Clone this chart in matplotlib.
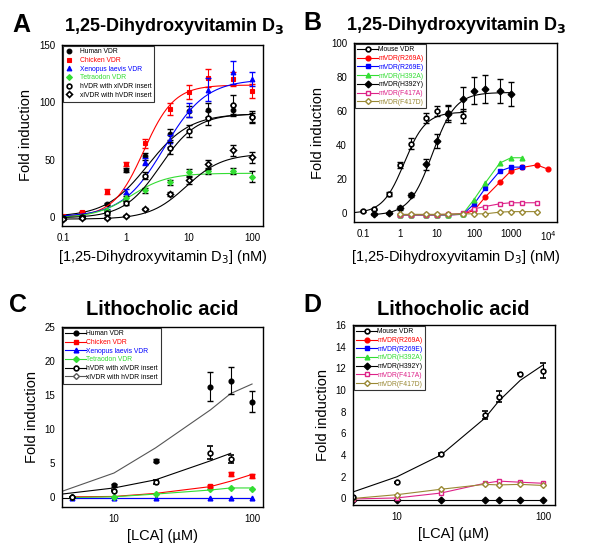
import numpy as np
import matplotlib
matplotlib.use("Agg")
import matplotlib.pyplot as plt

plt.rcParams['font.family'] = ['Liberation Sans', 'DejaVu Sans']

# ---------------- panel A data (1,25-D3, nM) ----------------
a_x = [0.1, 0.2, 0.5, 1, 2, 5, 10, 20, 50, 100]
a_human = [0, 3, 11, 41, 53, 72, 92, 93, 93, 87]
a_human_err = [1, 1, 1, 2, 3, 5, 5, 6, 5, 4]
a_chicken = [1, 4, 22, 46, 64, 94, 109, 121, 120, 110]
a_chicken_err = [1, 1, 2, 2, 4, 5, 6, 8, 6, 6]
a_xenopus = [0, 1, 6, 22, 48, 66, 93, 111, 126, 120]
a_xenopus_err = [1, 1, 1, 2, 3, 5, 6, 10, 10, 6]
a_tetra = [-1, 0, 5, 16, 23, 30, 39, 40, 40, 35]
a_tetra_err = [1, 1, 1, 2, 2, 2, 3, 3, 3, 5]
a_hx = [-1, 0, 3, 12, 36, 60, 75, 86, 98, 87]
a_hx_err = [1, 1, 1, 2, 3, 5, 5, 6, 8, 5]
a_xh = [-2, -1, -1, 1, 7, 20, 32, 46, 58, 52]
a_xh_err = [1, 1, 1, 1, 1, 2, 3, 4, 5, 5]
# Hill fit parameters: (bottom, top, EC50, slope)
a_fits = {
    'human': (0, 90, 2.2, 1.3),
    'chicken': (0, 115, 1.9, 1.8),
    'xenopus': (0, 120, 4.0, 1.3),
    'tetra': (-1, 38, 1.2, 1.5),
    'hx': (-1, 90, 3.5, 1.5),
    'xh': (-2, 55, 9.0, 1.5),
}

# ---------------- panel B data ----------------
b_mouse_x = [0.1, 0.2, 0.5, 1, 2, 5, 10, 20, 50]
b_mouse = [1.4, 2.4, 11.4, 28.4, 41, 56, 60, 59, 57]
b_mouse_err = [0.5, 0.5, 1, 2, 3, 3, 3, 4, 4]
b_h392y_x = [0.2, 0.5, 1, 2, 5, 10, 20, 50, 100, 200, 500, 1000]
b_h392y = [-0.4, 0, 3.3, 10.8, 28.8, 42.7, 58.4, 67, 72, 73, 72, 70]
b_h392y_err = [0.5, 0.5, 1, 1, 3, 4, 5, 7, 8, 8, 7, 7]
b_mouse_fit = (0, 59.5, 1.3, 1.5)
b_h392y_fit = (-1, 71, 7.5, 1.4)
b_mut_x = [1, 2, 5, 10, 20, 50, 100, 200, 500, 1000, 2000, 5000, 10000]
b_r269a = [-0.8, -0.8, -0.8, -0.8, -0.8, -0.5, 1.8, 9.6, 18.4, 25, 27, 28.5, 26]
b_r269e = [-0.8, -0.8, -0.8, -0.8, -0.8, -0.5, 5.5, 14.7, 24.9, 27.2, 27.2]
b_h392a = [-0.8, -0.8, -0.8, -0.8, -0.8, -0.3, 8.2, 17.8, 29.6, 32.7, 32.7]
b_f417a = [-0.8, -0.8, -0.8, -0.8, -0.5, 0, 2.7, 4.1, 5.7, 6.3, 6.3, 6.3]
b_f417d = [-0.5, -0.5, -0.5, -0.5, -0.3, -0.2, -0.2, -0.2, 0.8, 1.1, 1.1, 1.1]

# ---------------- panel C data (LCA, uM) ----------------
c_human_x = [10, 20, 50, 70, 100]
c_human = [1.7, 5.3, 16.2, 17.1, 14.0]
c_human_err = [0.2, 0.2, 2.1, 2.0, 1.5]
c_hx_x = [5, 10, 20, 50, 70]
c_hx = [-0.1, 0.9, 2.2, 6.5, 5.6]
c_hx_err = [0.1, 0.1, 0.3, 1.0, 0.6]
c_chicken_x = [50, 70, 100]
c_chicken = [1.6, 3.4, 3.0]
c_chicken_err = [0.2, 0.3, 0.3]
c_x = [5, 10, 20, 50, 70, 100]
c_xenopus = [-0.2, -0.2, -0.2, -0.2, -0.2, -0.2]
c_tetra = [-0.1, -0.05, 0.4, 1.1, 1.3, 1.2]
c_xh_x = [5]
c_xh = [-0.1]
# fitted lines as drawn
c_fit_x = [4.2, 10, 20, 50, 70, 100]
c_gray_fit = [0.8, 3.5, 7.2, 12.8, 15.2, 16.6]
c_black_fit = [0.4, 1.3, 2.5, 5.3, 6.4]
c_red_fit = [0, 0.05, 0.5, 1.5, 2.3, 3.3]
c_green_fit = [-0.1, 0, 0.4, 1.0, 1.3, 1.3]
c_flat_fit = [-0.2, -0.2, -0.2, -0.2, -0.2, -0.2]

# ---------------- panel D data ----------------
d_x = [5, 10, 20, 40, 50, 70, 100]
d_mouse = [0.15, 1.5, 4.1, 7.7, 9.4, 11.5, 11.8]
d_mouse_err = [0.05, 0.05, 0.1, 0.4, 0.5, 0.05, 0.7]
d_mouse_fit_x = [5, 10, 20, 40, 50, 70, 100]
d_mouse_fit = [0.6, 2.0, 4.0, 7.4, 9.0, 10.9, 12.3]
d_h392y = [-0.15] * 7
d_f417a = [-0.05, 0.05, 0.5, 1.4, 1.6, 1.5, 1.4]
d_f417d = [0, 0.35, 0.85, 1.3, 1.25, 1.3, 1.2]

GREEN = '#33dd33'
MAGENTA = '#dd2288'
OLIVE = '#998833'
MS = 3.4   # marker size
MSD = 3.0  # diamond size


def hill(x, p):
    bottom, top, ec50, n = p
    return bottom + (top - bottom) / (1 + (ec50 / x) ** n)


def style_axes(ax):
    ax.set_xscale('log')
    ax.tick_params(which='both', length=0, labelsize=7, pad=5)
    for s in ax.spines.values():
        s.set_linewidth(1.0)
    ax.set_ylabel('Fold induction', fontsize=10.5)


def color_legend(ax, handles, labels, cols, hl):
    leg = ax.legend(handles, labels, loc='upper left', fontsize=4.9, frameon=True,
                    fancybox=False, edgecolor='k', handlelength=hl, borderpad=0.4,
                    labelspacing=0.25, borderaxespad=0.1,
                    handletextpad=0.9 if hl < 2 else 0.1)
    leg.get_frame().set_linewidth(0.8)
    for t, c in zip(leg.get_texts(), cols):
        t.set_color(c)


fig = plt.figure(figsize=(6.0, 5.57), dpi=100)

# ================= A =================
ax = fig.add_axes([0.1033, 0.5943, 0.335, 0.325])
style_axes(ax)
xs = np.logspace(-1, 2, 200)
series = [
    ('Human VDR', a_human, a_human_err, 'human', 'k', 'o', 'k'),
    ('Chicken VDR', a_chicken, a_chicken_err, 'chicken', 'red', 's', 'red'),
    ('Xenopus laevis VDR', a_xenopus, a_xenopus_err, 'xenopus', 'blue', '^', 'blue'),
    ('Tetraodon VDR', a_tetra, a_tetra_err, 'tetra', GREEN, 'D', GREEN),
    ('hVDR with xlVDR insert', a_hx, a_hx_err, 'hx', 'k', 'o', 'white'),
    ('xlVDR with hVDR insert', a_xh, a_xh_err, 'xh', 'k', 'D', 'white'),
]
handles = []
for name, y, e, key, col, mk, fc in series:
    ax.plot(xs, hill(xs, a_fits[key]), color=col, lw=0.8)
    ax.errorbar(a_x, y, yerr=e, fmt='none', ecolor=col if col != GREEN else 'k',
                elinewidth=0.8, capsize=2)
    h, = ax.plot(a_x, y, ls='none', marker=mk, color=col, mfc=fc, mec=col,
                 ms=MS if mk != 'D' else MSD, mew=1.2 if fc == 'white' else 0.8)
    handles.append(h)
ax.set_xlim(0.095, 150)
ax.set_ylim(-8, 150)
ax.set_yticks([0, 50, 100, 150])
ax.set_xticks([0.1, 1, 10, 100])
ax.set_xticklabels(['0.1', '1', '10', '100'])
ax.set_xlabel('[1,25-Dihydroxyvitamin D$_3$] (nM)', fontsize=10.5)
color_legend(ax, handles, [s[0] for s in series], [s[4] for s in series], 1.2)

# ================= B =================
ax = fig.add_axes([0.59, 0.6014, 0.3383, 0.3214])
style_axes(ax)
xm = np.logspace(np.log10(0.057), np.log10(50), 200)
xh = np.logspace(np.log10(0.2), 3, 200)
ax.plot(xm, hill(xm, b_mouse_fit), color='k', lw=0.8)
ax.plot(xh, hill(xh, b_h392y_fit), color='k', lw=0.8)
ax.errorbar(b_mouse_x, b_mouse, yerr=b_mouse_err, fmt='none', ecolor='k',
            elinewidth=0.8, capsize=2)
ax.errorbar(b_h392y_x, b_h392y, yerr=b_h392y_err, fmt='none', ecolor='k',
            elinewidth=0.8, capsize=2)
ax.plot(b_mouse_x, b_mouse, ls='none', marker='o', mfc='white',
        mec='k', ms=MS, mew=1.2, color='k')
ax.plot(b_h392y_x, b_h392y, ls='none', marker='D', color='k', ms=MS)
mut = [
    (b_r269a, 'red', 'o', 'red'),
    (b_r269e, 'blue', 's', 'blue'),
    (b_h392a, GREEN, '^', GREEN),
    (b_f417a, MAGENTA, 's', 'white'),
    (b_f417d, OLIVE, 'D', 'white'),
]
for y, col, mk, fc in mut:
    ax.plot(b_mut_x[:len(y)], y, color=col, lw=0.8, marker=mk, mfc=fc,
            mec=col, ms=MS if mk != 'D' else MSD, mew=1.0)
# legend proxies with line through marker
lh = [
    ax.plot([], [], color='k', marker='o', mfc='white', mec='k', ms=MS, mew=1.2, lw=0.8)[0],
    ax.plot([], [], color='red', marker='o', ms=MS, lw=0.8)[0],
    ax.plot([], [], color='blue', marker='s', ms=MS, lw=0.8)[0],
    ax.plot([], [], color=GREEN, marker='^', ms=MS, lw=0.8)[0],
    ax.plot([], [], color='k', marker='D', ms=MS, lw=0.8)[0],
    ax.plot([], [], color=MAGENTA, marker='s', mfc='white', ms=MS, lw=0.8)[0],
    ax.plot([], [], color=OLIVE, marker='D', mfc='white', ms=MSD, lw=0.8)[0],
]
b_labels = ['Mouse VDR', 'mVDR(R269A)', 'mVDR(R269E)', 'mVDR(H392A)',
            'mVDR(H392Y)', 'mVDR(F417A)', 'mVDR(F417D)']
b_cols = ['k', 'red', 'blue', GREEN, 'k', MAGENTA, OLIVE]
color_legend(ax, lh, b_labels, b_cols, 3.0)
ax.set_xlim(0.057, 1.75e4)
ax.set_ylim(-5, 100)
ax.set_yticks([0, 20, 40, 60, 80, 100])
ax.set_xticks([0.1, 1, 10, 100, 1000, 10000])
ax.set_xticklabels(['0.1', '1', '10', '100', '1000', '10$^4$'])
ax.set_xlabel('[1,25-Dihydroxyvitamin D$_3$] (nM)', fontsize=10.5)

# ================= C =================
ax = fig.add_axes([0.1033, 0.0898, 0.335, 0.3232])
style_axes(ax)
ax.plot(c_fit_x, c_gray_fit, color='#555555', lw=0.8)
ax.plot(c_fit_x[:len(c_black_fit)], c_black_fit, color='k', lw=0.8)
ax.plot(c_x, c_red_fit, color='red', lw=0.8)
ax.plot(c_x, c_green_fit, color=GREEN, lw=0.8)
ax.plot(c_fit_x, c_flat_fit, color='k', lw=0.8)
ax.plot(c_x, c_flat_fit, color='blue', lw=0.8)
ax.errorbar(c_human_x, c_human, yerr=c_human_err, fmt='o', color='k', ms=MS,
            elinewidth=0.8, capsize=2)
ax.errorbar(c_hx_x, c_hx, yerr=c_hx_err, fmt='o', color='k', mfc='white', ms=MS,
            mew=1.2, elinewidth=0.8, capsize=2)
ax.errorbar(c_chicken_x, c_chicken, yerr=c_chicken_err, fmt='s', color='red',
            ms=MS, elinewidth=0.8, capsize=2)
ax.plot(c_x, c_xenopus, ls='none', marker='^', color='blue', ms=MS)
ax.plot(c_x, c_tetra, ls='none', marker='D', color=GREEN, ms=MSD)
ax.plot(c_xh_x, c_xh, ls='none', marker='D', color='k', mfc='white', ms=MSD)
c_lh = [
    ax.plot([], [], color='k', marker='o', ms=MS, lw=0.8)[0],
    ax.plot([], [], color='red', marker='s', ms=MS, lw=0.8)[0],
    ax.plot([], [], color='blue', marker='^', ms=MS, lw=0.8)[0],
    ax.plot([], [], color=GREEN, marker='D', ms=MSD, lw=0.8)[0],
    ax.plot([], [], color='k', marker='o', mfc='white', mew=1.2, ms=MS, lw=0.8)[0],
    ax.plot([], [], color='#555555', marker='D', mfc='white', ms=MSD, lw=0.8)[0],
]
c_labels = ['Human VDR', 'Chicken VDR', 'Xenopus laevis VDR', 'Tetraodon VDR',
            'hVDR with xlVDR insert', 'xlVDR with hVDR insert']
c_cols = ['k', 'red', 'blue', GREEN, 'k', 'k']
color_legend(ax, c_lh, c_labels, c_cols, 3.0)
ax.set_xlim(4.2, 120)
ax.set_ylim(-1.5, 25)
ax.set_yticks([0, 5, 10, 15, 20, 25])
ax.set_xticks([10, 100])
ax.set_xticklabels(['10', '100'])
ax.set_xlabel('[LCA] (\u00b5M)', fontsize=10.5)

# ================= D =================
ax = fig.add_axes([0.5883, 0.0934, 0.3367, 0.3232])
style_axes(ax)
ax.plot(d_mouse_fit_x, d_mouse_fit, color='k', lw=0.8)
ax.plot(d_x, d_h392y, color='k', lw=0.8, marker='D', ms=MS)
ax.plot(d_x, d_f417a, color=MAGENTA, lw=0.8, marker='s', mfc='white', ms=MS)
ax.plot(d_x, d_f417d, color=OLIVE, lw=0.8, marker='D', mfc='white', ms=MSD)
ax.errorbar(d_x, d_mouse, yerr=d_mouse_err, fmt='o', color='k', mfc='white',
            ms=MS, mew=1.2, elinewidth=0.8, capsize=2)
color_legend(ax, lh, b_labels, b_cols, 3.0)
ax.set_xlim(5, 121)
ax.set_ylim(-0.6, 16)
ax.set_yticks([0, 2, 4, 6, 8, 10, 12, 14, 16])
ax.set_xticks([10, 100])
ax.set_xticklabels(['10', '100'])
ax.set_xlabel('[LCA] (\u00b5M)', fontsize=10.5)

# titles and panel letters
fig.text(0.02, 0.955, 'A', fontsize=18, fontweight='bold', va='center')
fig.text(0.29, 0.952, '1,25-Dihydroxyvitamin D$_\\mathbf{3}$', fontsize=13,
         fontweight='bold', ha='center', va='center')
fig.text(0.505, 0.958, 'B', fontsize=18, fontweight='bold', va='center')
fig.text(0.76, 0.955, '1,25-Dihydroxyvitamin D$_\\mathbf{3}$', fontsize=13,
         fontweight='bold', ha='center', va='center')
fig.text(0.015, 0.452, 'C', fontsize=18, fontweight='bold', va='center')
fig.text(0.27, 0.445, 'Lithocholic acid', fontsize=14.5, fontweight='bold',
         ha='center', va='center')
fig.text(0.505, 0.452, 'D', fontsize=18, fontweight='bold', va='center')
fig.text(0.755, 0.445, 'Lithocholic acid', fontsize=14.5, fontweight='bold',
         ha='center', va='center')

fig.savefig('out.png', dpi=100)
